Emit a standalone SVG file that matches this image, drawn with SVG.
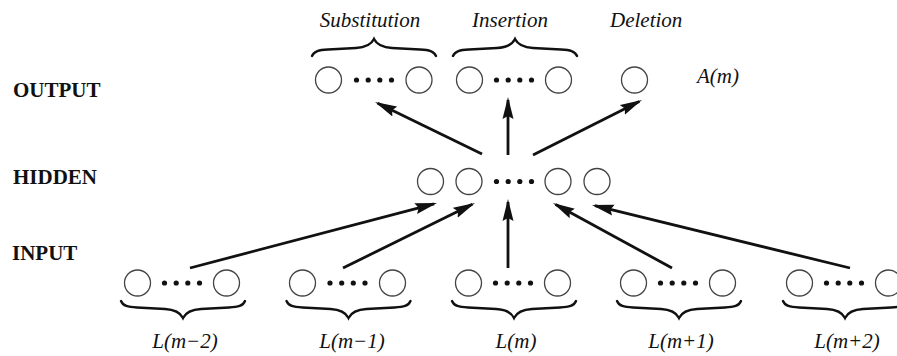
<svg xmlns="http://www.w3.org/2000/svg" xmlns:xlink="http://www.w3.org/1999/xlink" width="897" height="356" viewBox="0 0 897 356">
  <style>
    .layer { font-family: "Liberation Serif", "Times New Roman", serif; font-size: 21px; font-weight: bold; fill: #111; }
    .lbl { font-family: "Liberation Serif", "Times New Roman", serif; font-size: 21px; font-style: italic; fill: #111; }
    .unit { fill: #fff; stroke: #444; stroke-width: 1.3; }
    .dot { fill: #111; }
    .brace { fill: none; stroke: #111; stroke-width: 2.4; stroke-linecap: round; }
    .arrow { stroke: #111; stroke-width: 2.8; fill: none; marker-end: url(#head); }
  </style>
  <defs>
    <marker id="head" markerUnits="userSpaceOnUse" viewBox="0 0 22 12" markerWidth="22" markerHeight="12" refX="19" refY="6" orient="auto">
      <path d="M0,0.5 L22,6 L0,11.5 L3,6 z" fill="#111"/>
    </marker>
    <path id="brace" class="brace" d="M-62,0 C-60,5 -55,6 -46,6.5 L-18,8 C-8,8.5 -3,11 0,17 C3,11 8,8.5 18,8 L46,6.5 C55,6 60,5 62,0"/>
    <g id="dots">
      <circle class="dot" cx="-17.5" cy="0" r="2.6"/>
      <circle class="dot" cx="-5.8" cy="0" r="2.6"/>
      <circle class="dot" cx="5.8" cy="0" r="2.6"/>
      <circle class="dot" cx="17.5" cy="0" r="2.6"/>
    </g>
  </defs>

  <rect width="897" height="356" fill="#fff"/>

  <g id="layer-labels">
    <text class="layer" x="13" y="97">OUTPUT</text>
    <text class="layer" x="13" y="184">HIDDEN</text>
    <text class="layer" x="12" y="260">INPUT</text>
  </g>

  <g id="out-substitution">
    <text class="lbl" x="370" y="27" text-anchor="middle">Substitution</text>
    <use xlink:href="#brace" href="#brace" transform="translate(374,56) scale(1,-1)"/>
    <circle class="unit" cx="328.5" cy="80" r="13"/>
    <use xlink:href="#dots" href="#dots" transform="translate(374,80)"/>
    <circle class="unit" cx="419" cy="80" r="13"/>
  </g>

  <g id="out-insertion">
    <text class="lbl" x="510" y="27" text-anchor="middle">Insertion</text>
    <use xlink:href="#brace" href="#brace" transform="translate(515,56) scale(1,-1)"/>
    <circle class="unit" cx="469.5" cy="80" r="13"/>
    <use xlink:href="#dots" href="#dots" transform="translate(514,80)"/>
    <circle class="unit" cx="558.5" cy="80" r="13"/>
  </g>

  <g id="out-deletion">
    <text class="lbl" x="610" y="27">Deletion</text>
    <circle class="unit" cx="634.5" cy="80" r="13"/>
  </g>

  <g id="out-label">
    <text class="lbl" x="697" y="83">A(m)</text>
  </g>

  <g id="hidden">
    <circle class="unit" cx="430.5" cy="181.5" r="13"/>
    <circle class="unit" cx="469" cy="181.5" r="13"/>
    <use xlink:href="#dots" href="#dots" transform="translate(514,181.5)"/>
    <circle class="unit" cx="558" cy="181.5" r="13"/>
    <circle class="unit" cx="597" cy="181.5" r="13"/>
  </g>

  <g id="in-m-2">
    <circle class="unit" cx="137.5" cy="283" r="13"/>
    <use xlink:href="#dots" href="#dots" transform="translate(182,283)"/>
    <circle class="unit" cx="226.5" cy="283" r="13"/>
    <use xlink:href="#brace" href="#brace" transform="translate(183,301)"/>
    <text class="lbl" x="185" y="348" text-anchor="middle">L(m−2)</text>
  </g>

  <g id="in-m-1">
    <circle class="unit" cx="302.5" cy="283" r="13"/>
    <use xlink:href="#dots" href="#dots" transform="translate(347.5,283)"/>
    <circle class="unit" cx="392.5" cy="283" r="13"/>
    <use xlink:href="#brace" href="#brace" transform="translate(348.5,301)"/>
    <text class="lbl" x="352" y="348" text-anchor="middle">L(m−1)</text>
  </g>

  <g id="in-m">
    <circle class="unit" cx="468.5" cy="283" r="13"/>
    <use xlink:href="#dots" href="#dots" transform="translate(513,283)"/>
    <circle class="unit" cx="557.5" cy="283" r="13"/>
    <use xlink:href="#brace" href="#brace" transform="translate(514,301)"/>
    <text class="lbl" x="516" y="348" text-anchor="middle">L(m)</text>
  </g>

  <g id="in-m+1">
    <circle class="unit" cx="633.5" cy="283" r="13"/>
    <use xlink:href="#dots" href="#dots" transform="translate(678,283)"/>
    <circle class="unit" cx="722.5" cy="283" r="13"/>
    <use xlink:href="#brace" href="#brace" transform="translate(679,301)"/>
    <text class="lbl" x="681" y="348" text-anchor="middle">L(m+1)</text>
  </g>

  <g id="in-m+2">
    <circle class="unit" cx="799.5" cy="283" r="13"/>
    <use xlink:href="#dots" href="#dots" transform="translate(844,283)"/>
    <circle class="unit" cx="888.5" cy="283" r="13"/>
    <use xlink:href="#brace" href="#brace" transform="translate(845,301)"/>
    <text class="lbl" x="847" y="348" text-anchor="middle">L(m+2)</text>
  </g>

  <g id="connectors">
    <line class="arrow" x1="482" y1="154" x2="377.7" y2="103.3"/>
    <line class="arrow" x1="508" y1="155" x2="508" y2="100"/>
    <line class="arrow" x1="533" y1="155" x2="639.3" y2="101.4"/>
    <line class="arrow" x1="190" y1="268" x2="434.1" y2="203.8"/>
    <line class="arrow" x1="343" y1="268" x2="472.3" y2="204.3"/>
    <line class="arrow" x1="508" y1="268" x2="508" y2="202"/>
    <line class="arrow" x1="672" y1="268" x2="555.6" y2="204.4"/>
    <line class="arrow" x1="850" y1="268" x2="594.9" y2="205.7"/>
  </g>
</svg>
